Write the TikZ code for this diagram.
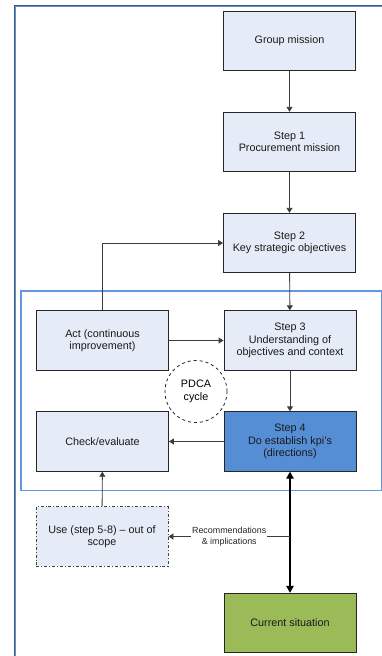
\documentclass[tikz,border=0pt]{standalone}
\usepackage{fontspec}
\setmainfont{Liberation Sans}
\usetikzlibrary{arrows.meta}
\definecolor{boxfill}{RGB}{230,236,247}
\definecolor{kpiblue}{RGB}{85,142,213}
\definecolor{curgreen}{RGB}{155,187,89}
\definecolor{framedark}{RGB}{55,90,140}
\definecolor{framelight}{RGB}{110,145,195}
\definecolor{scopeblue}{RGB}{100,150,225}
\definecolor{linegray}{RGB}{60,60,60}
\tikzset{
  stepbox/.style={draw=black!85, line width=0.9pt, fill=boxfill, minimum width=132pt,
    minimum height=59.5pt, align=center, inner sep=2pt, text=black!90,
    font=\fontsize{10.8}{12.4}\selectfont},
  flow/.style={draw=linegray, line width=0.9pt, -{Triangle[length=5pt,width=6pt]}},
  bidir/.style={draw=black, line width=1.3pt, {Triangle[length=7pt,width=7.5pt]}-{Triangle[length=7pt,width=7.5pt]}},
  smalllabel/.style={fill=white, inner sep=1pt, align=center, text=black!85,
    font=\fontsize{8.9}{10.6}\selectfont}
}
\begin{document}
\begin{tikzpicture}[x=1pt,y=-1pt]
\useasboundingbox (0,0) rectangle (382,656);
% outer frame (left and top edges)
\draw[framedark, line width=2.6pt] (15,660) -- (15,6) -- (390,6);
\draw[framelight, line width=0.7pt] (15,660) -- (15,6) -- (390,6);
% scope of the PDCA cycle
\draw[scopeblue, line width=1.3pt] (21,291) rectangle (381.5,490.5);

% steps
\node[stepbox] (gm) at (289.5,41) {Group mission};
\node[stepbox] (s1) at (289.5,142) {Step 1\\Procurement mission};
\node[stepbox] (s2) at (289.5,243) {Step 2\\Key strategic objectives};
\node[stepbox] (s3) at (290,340.5) {Step 3\\Understanding of\\objectives and context};
\node[stepbox, fill=kpiblue] (s4) at (290,441.5) {Step 4\\Do establish kpi's\\(directions)};
\node[stepbox] (act) at (102.5,340.5) {Act (continuous\\improvement)};
\node[stepbox] (chk) at (102.5,441.5) {Check/evaluate};
\node[stepbox, dash dot, draw=black!75] (use) at (102,536.5) {Use (step 5-8) -- out of\\scope};
\node[stepbox, fill=curgreen] (cur) at (290,623) {Current situation};
\node[draw=black!85, dashed, line width=0.8pt, circle, minimum size=62pt, align=center,
  font=\fontsize{10.8}{12.4}\selectfont, inner sep=0pt] (pdca) at (196,391.5) {PDCA\\cycle};

% connectors
\draw[flow] (gm) -- (s1);
\draw[flow] (s1) -- (s2);
\draw[flow] (act.north) |- (s2.west);
\draw[flow] (s2) -- (s3);
\draw[flow] (act) -- (s3);
\draw[flow] (s3) -- (s4);
\draw[flow] (s4) -- (chk);
\draw[flow] (use) -- (chk);
\draw[bidir] (s4) -- (cur);
\coordinate (br) at (s4.south |- use.east);
\draw[flow] (br) -- node[smalllabel] {Recommendations\\\& implications} (use.east);
\end{tikzpicture}
\end{document}
